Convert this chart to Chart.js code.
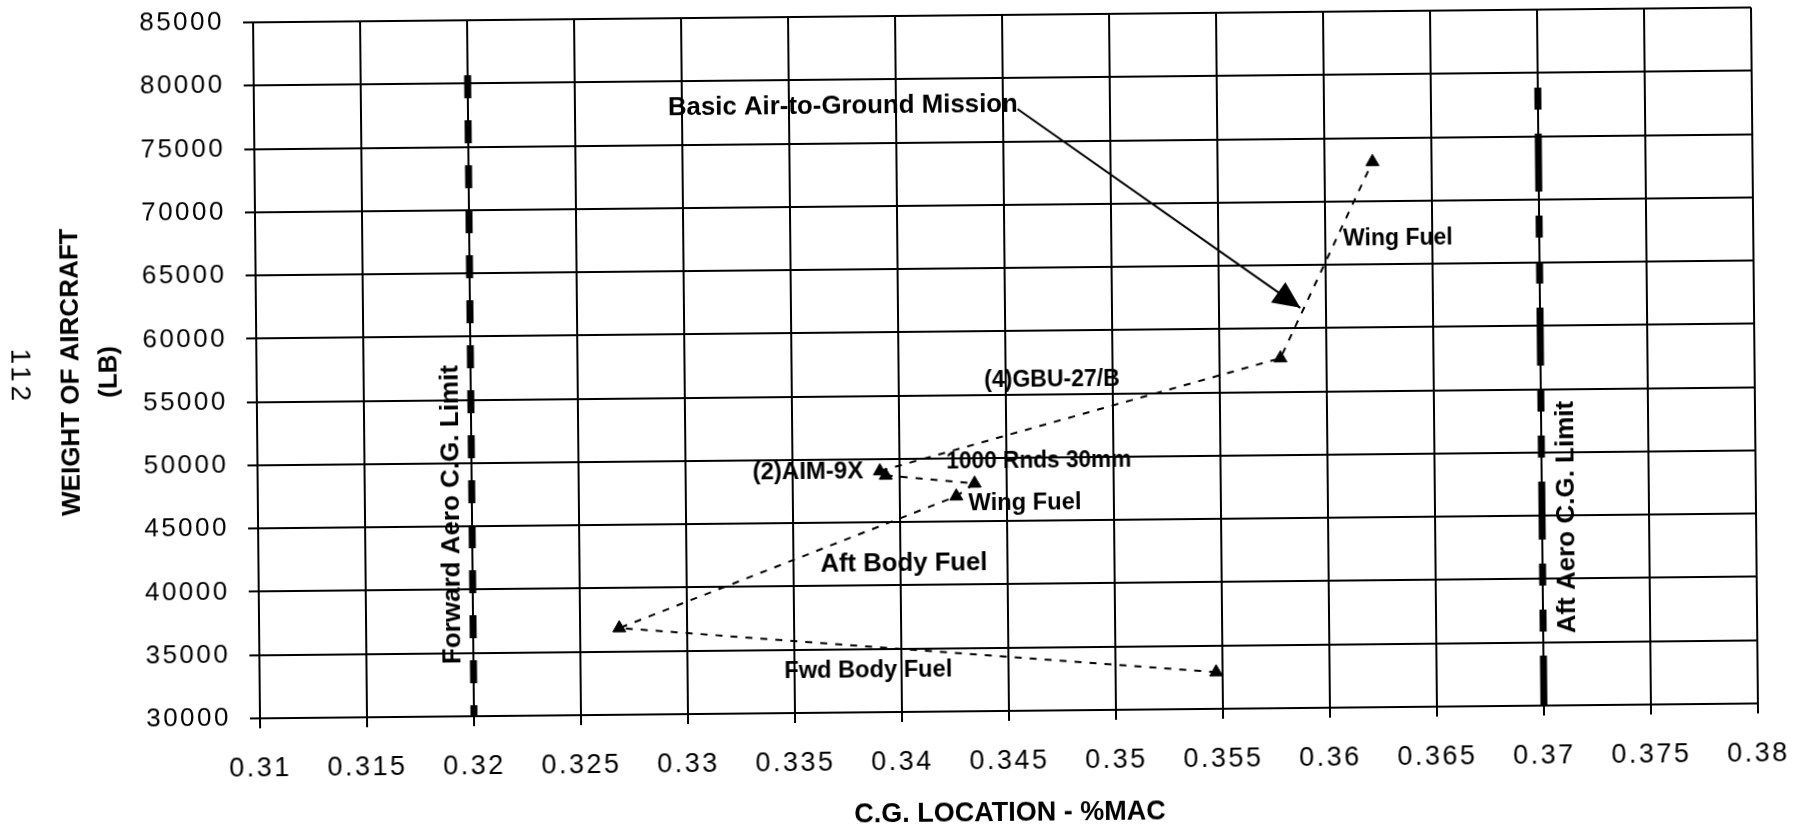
<!DOCTYPE html>
<html>
<head>
<meta charset="utf-8">
<title>C.G. Location vs Weight of Aircraft</title>
<script src="https://cdn.jsdelivr.net/npm/chart.js@4.4.1/dist/chart.umd.min.js"></script>
<style>
  html, body { margin: 0; padding: 0; background: #fff; overflow: hidden; }
  /* the source page is a scan that sits a little crooked */
  #wrap { width: 1794px; height: 828px; transform: rotate(-0.57deg); }
</style>
</head>
<body>
<div id="wrap"><canvas id="cgChart"></canvas></div>
<script>
// loading path: C.G. (%MAC) and weight (lb)
var pathCG = [0.3547, 0.32683, 0.34264, 0.3435, 0.33935, 0.33908, 0.35785, 0.36224];
var pathWeight = [32900, 36850, 47000, 48000, 48700, 49050, 57660, 73100];

// aero C.G. limits
var fwdLimitCG = [0.32, 0.32];
var fwdLimitWeight = [30000, 81000];
var aftLimitCG = [0.37, 0.37];
var aftLimitWeight = [30000, 79000];

// arrow from the mission note to the path
var arrowCG = [0.34568, 0.3588];
var arrowWeight = [77550, 61620];

var xTicks = [0.31, 0.315, 0.32, 0.325, 0.33, 0.335, 0.34, 0.345, 0.35, 0.355, 0.36, 0.365, 0.37, 0.375, 0.38];
var xTickLabels = ['0.31', '0.315', '0.32', '0.325', '0.33', '0.335', '0.34', '0.345', '0.35', '0.355', '0.36', '0.365', '0.37', '0.375', '0.38'];
var yTicks = [30000, 35000, 40000, 45000, 50000, 55000, 60000, 65000, 70000, 75000, 80000, 85000];
var yTickLabels = ['30000', '35000', '40000', '45000', '50000', '55000', '60000', '65000', '70000', '75000', '80000', '85000'];

// text notes on the plot, anchored in data units (left edge / middle)
var notes = [
  {text: 'Basic Air-to-Ground Mission', x: 0.32934, y: 77900, size: 26, w: 350},
  {text: 'Wing Fuel', x: 0.36083, y: 66975, size: 23, w: 112},
  {text: '(4)GBU-27/B', x: 0.34400, y: 56100, size: 23, w: 137},
  {text: '(2)AIM-9X', x: 0.33313, y: 49030, size: 24, w: 113},
  {text: '1000 Rnds 30mm', x: 0.34219, y: 49700, size: 23, w: 185},
  {text: 'Wing Fuel', x: 0.3432, y: 46370, size: 24, w: 113},
  {text: 'Aft Body Fuel', x: 0.33626, y: 41670, size: 26, w: 167},
  {text: 'Fwd Body Fuel', x: 0.33452, y: 33280, size: 24, w: 168},
  {text: 'Forward Aero C.G. Limit', x: 0.31907, y: 45950, size: 26, w: 305, rot: -90},
  {text: 'Aft Aero C.G. Limit', x: 0.37117, y: 44870, size: 26, w: 236, rot: -90}
];

var FONT = '"Liberation Sans", Arial, Helvetica, sans-serif';

function pairs(xs, ys) {
  return xs.map(function (v, i) { return {x: v, y: ys[i]}; });
}

// draws the notes, the arrow head and the page number.
// tick labels are drawn after the datasets (ticks.z = 1) so the letter
// spacing set at the end of afterDatasetsDraw only hits them.
var notesPlugin = {
  id: 'notes',
  afterDatasetsDraw: function (chart) {
    var ctx = chart.ctx;
    var xs = chart.scales.x, ys = chart.scales.y;
    ctx.save();
    ctx.fillStyle = '#000';
    notes.forEach(function (n) {
      ctx.save();
      ctx.translate(xs.getPixelForValue(n.x), ys.getPixelForValue(n.y));
      if (n.rot) ctx.rotate(n.rot * Math.PI / 180);
      ctx.font = 'bold ' + n.size + 'px ' + FONT;
      ctx.textAlign = n.rot ? 'center' : 'left';
      ctx.textBaseline = 'middle';
      ctx.fillText(n.text, 0, 0, n.w);
      ctx.restore();
    });

    var meta = chart.getDatasetMeta(3);
    var a = meta.data[0], b = meta.data[1];
    var ang = Math.atan2(b.y - a.y, b.x - a.x);
    ctx.translate(b.x, b.y);
    ctx.rotate(ang);
    ctx.beginPath();
    ctx.moveTo(0, 0);
    ctx.lineTo(-27, -12.5);
    ctx.lineTo(-27, 12.5);
    ctx.closePath();
    ctx.fill();
    ctx.restore();

    ctx.letterSpacing = '2.5px';
  },
  afterDraw: function (chart) {
    var ctx = chart.ctx;
    ctx.save();
    ctx.letterSpacing = '4px';
    ctx.fillStyle = '#000';
    ctx.font = '28px ' + FONT;
    ctx.translate(20, 368);
    ctx.rotate(Math.PI / 2);
    ctx.textAlign = 'center';
    ctx.textBaseline = 'middle';
    ctx.fillText('112', 0, 0);
    ctx.restore();
    ctx.letterSpacing = '0px';
  }
};

Chart.defaults.font.family = FONT;
Chart.defaults.color = '#000';

var ctx = document.getElementById('cgChart');
var cgChart = new Chart(ctx, {
  type: 'scatter',
  data: {
    datasets: [
      {
        label: 'Loading',
        data: pairs(pathCG, pathWeight),
        showLine: true,
        borderColor: '#000',
        borderWidth: 2,
        borderDash: [7, 8],
        pointStyle: 'triangle',
        pointRadius: 7.5,
        pointBackgroundColor: '#000',
        pointBorderColor: '#000',
        pointBorderWidth: 1
      },
      {
        label: 'Forward Aero C.G. Limit',
        data: pairs(fwdLimitCG, fwdLimitWeight),
        showLine: true,
        borderColor: '#000',
        borderWidth: 7,
        borderDash: [23, 22],
        borderDashOffset: 12,
        pointRadius: 0
      },
      {
        label: 'Aft Aero C.G. Limit',
        data: pairs(aftLimitCG, aftLimitWeight),
        showLine: true,
        borderColor: '#000',
        borderWidth: 7,
        borderDash: [58, 24, 22, 24, 22, 24],
        borderDashOffset: 8,
        pointRadius: 0
      },
      {
        label: 'Basic Air-to-Ground Mission',
        data: pairs(arrowCG, arrowWeight),
        showLine: true,
        borderColor: '#000',
        borderWidth: 2,
        pointRadius: 0
      }
    ]
  },
  options: {
    responsive: true,
    maintainAspectRatio: false,
    animation: false,
    layout: { padding: { left: 0, right: 39, top: 16, bottom: 0 } },
    plugins: {
      legend: { display: false },
      tooltip: { enabled: false }
    },
    scales: {
      x: {
        type: 'linear',
        min: 0.31,
        max: 0.38,
        afterBuildTicks: function (scale) {
          scale.ticks = xTicks.map(function (v) { return {value: v}; });
        },
        afterFit: function (scale) {
          scale.height = 116;
          scale.paddingLeft = 0;
          scale.paddingRight = 0;
        },
        ticks: {
          autoSkip: false,
          maxRotation: 0,
          padding: 27,
          z: 1,
          font: { size: 27, lineHeight: 1 },
          callback: function (v, i) { return xTickLabels[i]; }
        },
        grid: { color: '#000', lineWidth: 2, tickLength: 10, drawTicks: true },
        border: { color: '#000', width: 2 },
        title: {
          display: true,
          text: 'C.G. LOCATION - %MAC',
          font: { size: 27, weight: 'bold', lineHeight: 1 },
          padding: { top: 0, bottom: 0 }
        }
      },
      y: {
        type: 'linear',
        min: 30000,
        max: 85000,
        afterBuildTicks: function (scale) {
          scale.ticks = yTicks.map(function (v) { return {value: v}; });
        },
        afterFit: function (scale) {
          scale.width = 257;
          scale.paddingTop = 0;
          scale.paddingBottom = 0;
        },
        ticks: {
          autoSkip: false,
          padding: 19,
          z: 1,
          font: { size: 26, lineHeight: 1 },
          callback: function (v, i) { return yTickLabels[i]; }
        },
        grid: { color: '#000', lineWidth: 2, tickLength: 10, drawTicks: true },
        border: { color: '#000', width: 2 },
        title: {
          display: true,
          text: ['WEIGHT OF AIRCRAFT', '(LB)'],
          font: { size: 26, weight: 'bold', lineHeight: 1.46 },
          padding: { top: 53, bottom: 0 }
        }
      }
    }
  },
  plugins: [notesPlugin]
});
</script>
</body>
</html>
